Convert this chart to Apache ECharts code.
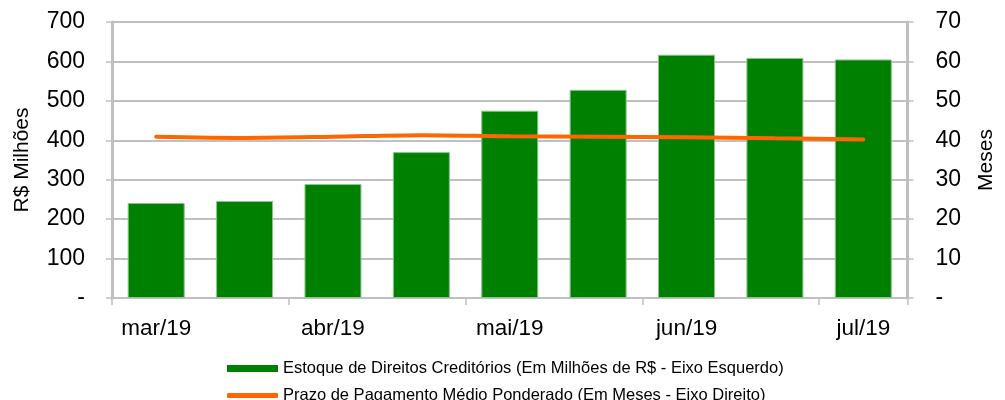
<!DOCTYPE html>
<html>
<head>
<meta charset="utf-8">
<script src="https://cdn.jsdelivr.net/npm/echarts@6/dist/echarts.min.js"></script>
<style>
  html, body { margin: 0; padding: 0; background: #fff; overflow: hidden; }
  #chart { width: 1005px; height: 400px; }
</style>
</head>
<body>
<div id="chart"></div>
<script>
// dados do gráfico (quinzenal, rótulo só a cada dois pontos)
const categorias = ['mar/19', 'mar/19 b', 'abr/19', 'abr/19 b', 'mai/19', 'mai/19 b', 'jun/19', 'jun/19 b', 'jul/19'];
const estoque = [241, 246, 289, 370, 475, 528, 617, 609, 605]; // R$ milhões
const prazo = [40.9, 40.6, 40.9, 41.3, 41.0, 40.9, 40.8, 40.5, 40.2]; // meses
const nomeEstoque = 'Estoque de Direitos Creditórios (Em Milhões de R$ - Eixo Esquerdo)';
const nomePrazo = 'Prazo de Pagamento Médio Ponderado (Em Meses - Eixo Direito)';

const chart = echarts.init(document.getElementById('chart'));
const fonte = '"Liberation Sans", Arial, sans-serif';
const cinza = '#c0c0c0';

const option = {
  animation: false,
  textStyle: { fontFamily: fonte, color: '#000' },
  grid: { left: 112, right: 90, top: 22, bottom: 102 },
  legend: [{
    data: [nomeEstoque],
    left: 222, top: 355,
    itemWidth: 51, itemHeight: 7, itemGap: 8,
    icon: 'rect',
    itemStyle: { borderWidth: 0 },
    textStyle: { fontSize: 16.5, color: '#000', fontFamily: fonte }
  }, {
    data: [nomePrazo],
    left: 222, top: 382,
    itemWidth: 51, itemHeight: 5,
    icon: 'roundRect',
    textStyle: { fontSize: 16.5, color: '#000', fontFamily: fonte }
  }],
  xAxis: {
    type: 'category',
    data: categorias,
    boundaryGap: true,
    axisLine: { lineStyle: { color: cinza, width: 2 } },
    axisTick: { show: true, length: 7, lineStyle: { color: cinza, width: 1.5 } },
    axisLabel: {
      interval: 1, margin: 19, fontSize: 22.5, color: '#000',
      formatter: v => v.replace(' b', '')
    }
  },
  yAxis: [{
    type: 'value',
    min: 0, max: 700, interval: 100,
    name: 'R$ Milhões',
    nameLocation: 'middle', nameGap: 90, nameRotate: 90,
    nameTextStyle: { fontSize: 21, color: '#000', align: 'center', verticalAlign: 'middle' },
    axisLine: { show: true, lineStyle: { color: cinza, width: 3 } },
    axisTick: { show: true, length: 6, lineStyle: { color: cinza, width: 1.5 } },
    splitLine: { lineStyle: { color: cinza, width: 2 } },
    axisLabel: {
      fontSize: 23, color: '#000', margin: 27,
      formatter: v => v === 0 ? '-' : v
    }
  }, {
    type: 'value',
    min: 0, max: 70, interval: 10,
    name: 'Meses',
    nameLocation: 'middle', nameGap: 79, nameRotate: 90,
    nameTextStyle: { fontSize: 21, color: '#000', align: 'center', verticalAlign: 'middle' },
    axisLine: { show: true, lineStyle: { color: cinza, width: 3 } },
    axisTick: { show: true, length: 6, lineStyle: { color: cinza, width: 1.5 } },
    splitLine: { show: false },
    axisLabel: {
      fontSize: 23, color: '#000', margin: 28,
      formatter: v => v === 0 ? '-' : v
    }
  }],
  series: [{
    name: nomeEstoque,
    type: 'bar',
    yAxisIndex: 0,
    data: estoque,
    barWidth: 57,
    itemStyle: { color: '#008000', borderColor: '#8cc48c', borderWidth: 1 }
  }, {
    name: nomePrazo,
    type: 'line',
    yAxisIndex: 1,
    data: prazo,
    smooth: 0.3,
    showSymbol: false,
    symbol: 'none',
    lineStyle: { color: '#ff6600', width: 4, cap: 'round' },
    itemStyle: { color: '#ff6600' }
  }]
};

chart.setOption(option);
</script>
</body>
</html>
